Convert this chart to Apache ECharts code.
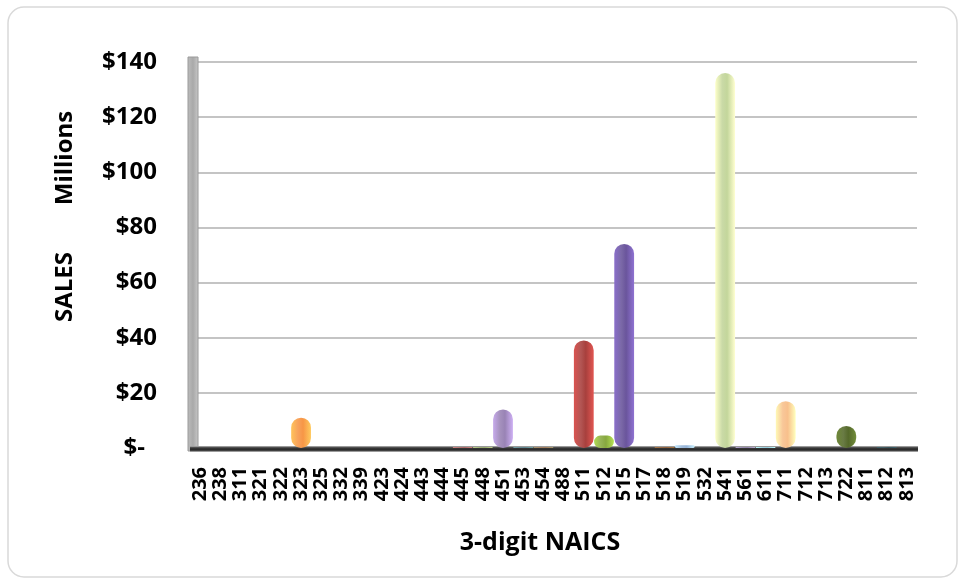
<!DOCTYPE html>
<html>
<head>
<meta charset="utf-8">
<script src="https://cdn.jsdelivr.net/npm/echarts@6/dist/echarts.min.js"></script>
<style>
  html, body { margin: 0; padding: 0; background: #ffffff; }
  #chart { width: 959px; height: 579px; }
</style>
</head>
<body>
<div id="chart"></div>
<script>
// 3-digit NAICS codes along the category axis
const naicsCodes = ['236','238','311','321','322','323','325','332','339','423','424','443','444','445','448','451','453','454','488','511','512','515','517','518','519','532','541','561','611','711','712','713','722','811','812','813'];

// Sales per code, in millions of dollars
const salesMillions = [0,0,0,0,0,11,0,0,0,0,0,0,0,0.3,0.3,14,0.2,0.2,0,39,4.5,74,0,0.2,1,0,136,0.3,0.4,17,0,0,8,0,0.2,0];

// Value-axis tick labels, bottom to top
const yTickLabels = ['$-','$20','$40','$60','$80','$100','$120','$140'];

// Office-style "vary colors by point" cycle
const pointPalette = [
  '#4F81BD','#C0504D','#9BBB59','#8064A2','#4BACC6','#F79646',
  '#2C4D75','#772C2A','#5F7530','#4D3B62','#276A7C','#B65708',
  '#729ACA','#CD7371','#AFC97A','#9983B5','#6FBDD1','#F9AB6B',
  '#3A679C','#A8403D','#87A83F','#6A559C','#3490A8','#D8772A',
  '#95B3D7','#D99694','#C3D69B','#A898C8','#93CDDD','#F8C08C',
  '#253E5E','#5B2120','#55692B','#3F3151','#205867','#974806'
];

const FONT = '"Open Sans", "Noto Sans", sans-serif';
const lift = echarts.color.lift;

function capsuleFill(c) {
  return new echarts.graphic.LinearGradient(0, 0, 1, 0, [
    { offset: 0, color: lift(c, -0.3) },
    { offset: 0.35, color: lift(c, 0.12) },
    { offset: 0.6, color: c },
    { offset: 1, color: lift(c, -0.35) }
  ]);
}

const barData = salesMillions.map((v, i) => ({
  value: v,
  itemStyle: {
    color: capsuleFill(pointPalette[i % pointPalette.length]),
    borderRadius: 10
  }
}));

// plot frame
const gridLeft = 190, gridRight = 42, gridTop = 62, gridBottom = 131;
const floorY = 579 - gridBottom;

const chart = echarts.init(document.getElementById('chart'), null, { renderer: 'canvas' });

chart.setOption({
  animation: false,
  backgroundColor: '#ffffff',
  grid: { left: gridLeft, right: gridRight, top: gridTop, bottom: gridBottom, containLabel: false },
  xAxis: {
    type: 'category',
    data: naicsCodes,
    axisLine: { show: false },
    axisTick: { show: false },
    axisLabel: {
      interval: 0,
      rotate: 90,
      margin: 19,
      fontFamily: FONT,
      fontWeight: 'bold',
      fontSize: 20,
      color: '#000000'
    }
  },
  yAxis: {
    type: 'value',
    min: 0,
    max: 140,
    interval: 20,
    axisLine: { show: false },
    axisTick: { show: false },
    splitLine: { lineStyle: { color: '#c4c4c4', width: 2 } },
    axisLabel: {
      margin: 33,
      fontFamily: FONT,
      fontWeight: 'bold',
      fontSize: 24,
      color: '#000000',
      formatter: v => {
        const s = yTickLabels[Math.round(v / 20)];
        return v === 0 ? '{z|' + s + '}' : s;
      },
      rich: {
        z: { fontFamily: FONT, fontWeight: 'bold', fontSize: 24, color: '#000000', padding: [0, 12, 0, 0] }
      }
    }
  },
  series: [{
    type: 'bar',
    data: barData,
    barCategoryGap: '2%',
    z: 5
  }],
  graphic: [
    // chart border
    {
      type: 'rect', z: 0, silent: true,
      shape: { x: 8, y: 7, width: 949, height: 570, r: 16 },
      style: { fill: 'none', stroke: '#d9d9d9', lineWidth: 1.5 }
    },
    // back wall on the left
    {
      type: 'rect', z: 2, silent: true,
      shape: { x: 188, y: 57, width: 10, height: floorY - 57 + 3 },
      style: {
        fill: new echarts.graphic.LinearGradient(0, 0, 1, 0, [
          { offset: 0, color: '#bdbdbd' }, { offset: 0.5, color: '#a9a9a9' }, { offset: 1, color: '#c9c9c9' }
        ]),
        stroke: '#9a9a9a', lineWidth: 1
      }
    },
    // floor
    {
      type: 'rect', z: 3, silent: true,
      shape: { x: 190, y: floorY - 2, width: 728, height: 6 },
      style: {
        fill: new echarts.graphic.LinearGradient(0, 0, 0, 1, [
          { offset: 0, color: '#bfbfbf' }, { offset: 0.3, color: '#3a3a3a' },
          { offset: 0.7, color: '#262626' }, { offset: 1, color: '#c8c8c8' }
        ])
      }
    },
    // axis titles
    {
      type: 'text', z: 10,
      x: 540, y: 543,
      style: {
        text: '3-digit NAICS', fontFamily: FONT, fontWeight: 'bold', fontSize: 25,
        fill: '#000000', align: 'center', verticalAlign: 'middle'
      }
    },
    {
      type: 'text', z: 10,
      x: 65, y: 287, rotation: Math.PI / 2,
      style: {
        text: 'SALES', fontFamily: FONT, fontWeight: 'bold', fontSize: 24,
        fill: '#000000', align: 'center', verticalAlign: 'middle'
      }
    },
    {
      type: 'text', z: 10,
      x: 65, y: 158, rotation: Math.PI / 2,
      style: {
        text: 'Millions', fontFamily: FONT, fontWeight: 'bold', fontSize: 24,
        fill: '#000000', align: 'center', verticalAlign: 'middle'
      }
    }
  ]
});
</script>
</body>
</html>
